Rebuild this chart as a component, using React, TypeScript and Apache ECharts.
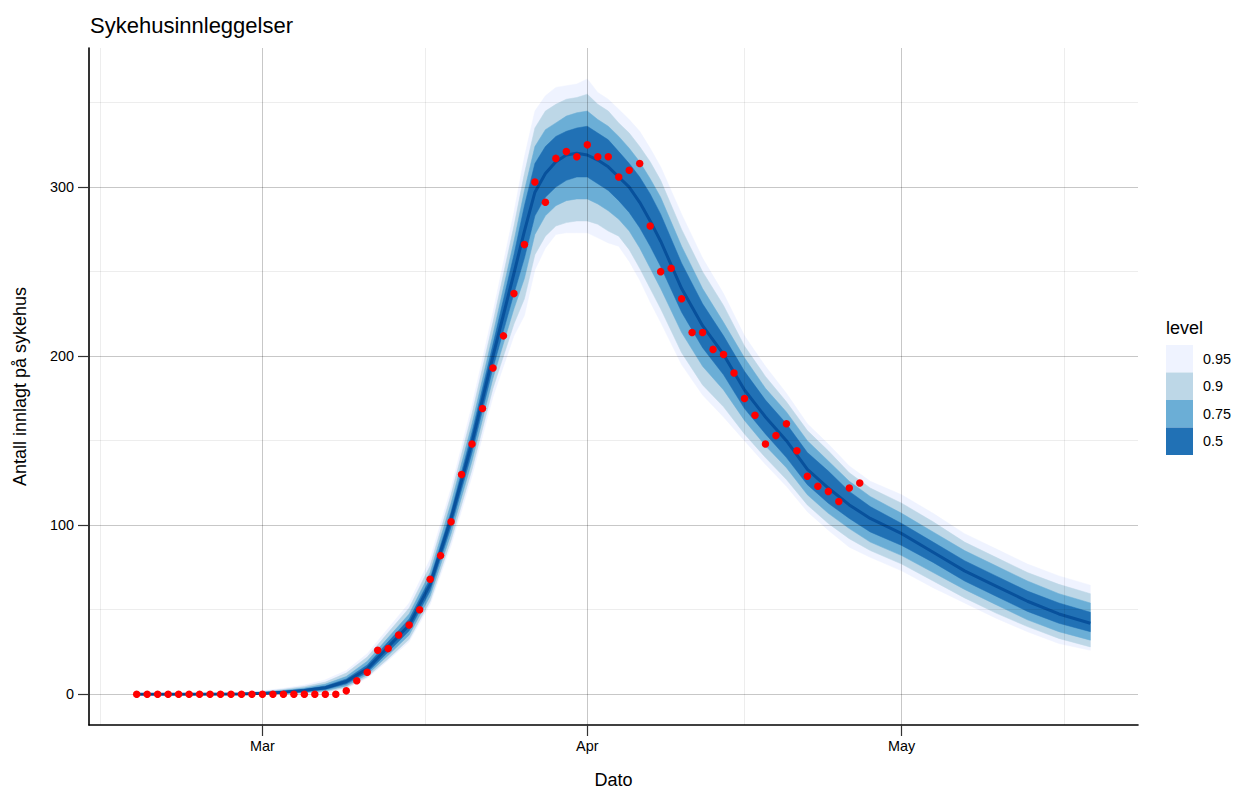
import React, { useEffect, useRef } from 'react';
import * as echarts from 'echarts';

const chartTitle = 'Sykehusinnleggelser';
const xTitle = 'Dato';
const yTitle = 'Antall innlagt på sykehus';
const legendTitle = 'level';
const levels = ['0.95', '0.9', '0.75', '0.5'];
const levelColors = ['#eff3ff', '#bdd7e7', '#6baed6', '#2171b5'];

// observed admissions, one per day from pointsStart
const pointsStart = '2020-02-18';
const admissions = [
  0, 0, 0, 0, 0, 0, 0, 0, 0, 0, 0, 0, 0, 0, 0, 0, 0, 0, 0, 0,
  2, 8, 13, 26, 27, 35, 41, 50, 68, 82, 102, 130, 148, 169, 193, 212, 237, 266, 303, 291,
  317, 321, 318, 325, 318, 318, 306, 310, 314, 277, 250, 252, 234, 214, 214, 204, 201, 190, 175, 165,
  148, 153, 160, 144, 129, 123, 120, 114, 122, 125,
];

// model prediction (median and quantile bands)
const bandDates = [
  '2020-02-18', '2020-02-23', '2020-02-28', '2020-03-01', '2020-03-03', '2020-03-05', '2020-03-07', '2020-03-09',
  '2020-03-11', '2020-03-13', '2020-03-15', '2020-03-17', '2020-03-19', '2020-03-21', '2020-03-23', '2020-03-25',
  '2020-03-26', '2020-03-27', '2020-03-28', '2020-03-29', '2020-03-30', '2020-03-31', '2020-04-01', '2020-04-02',
  '2020-04-03', '2020-04-04', '2020-04-05', '2020-04-06', '2020-04-07', '2020-04-08', '2020-04-10', '2020-04-12',
  '2020-04-14', '2020-04-16', '2020-04-18', '2020-04-20', '2020-04-22', '2020-04-24', '2020-04-26', '2020-04-28',
  '2020-05-01', '2020-05-04', '2020-05-07', '2020-05-10', '2020-05-13', '2020-05-16', '2020-05-19',
];
const median = [
  0, 0, 0.2, 0.5, 1.2, 2.2, 3.8, 7.5, 15, 28, 41, 65, 104, 149, 200, 249, 274, 297, 308, 315,
  319, 320, 319, 316, 312, 306, 300, 291, 280, 268, 240, 218, 201, 180, 164, 150, 133, 122, 112, 104,
  95, 84, 73, 64, 55, 47.5, 42,
];
const hi95 = [
  0.6, 0.6, 1.0, 2.0, 3.5, 5.5, 8.5, 14, 24, 39, 54, 80, 122, 171, 226, 285, 318, 345, 354, 359,
  360, 361, 364, 356, 352, 346, 340, 333, 323, 312, 284, 258, 237, 212, 194, 178, 160, 148, 135, 126,
  118, 107, 95, 86, 77, 70, 64.5,
];
const hi90 = [
  0.5, 0.5, 0.8, 1.6, 2.9, 4.6, 7.2, 12.5, 22, 36.5, 51, 76, 118, 166, 220, 277, 308, 335, 345, 349,
  352, 353, 355, 349, 345, 338, 332, 324, 315, 304, 275, 250, 230, 206, 188, 173, 156, 144, 131, 122,
  113, 102, 90, 81, 72, 65, 59.5,
];
const hi75 = [
  0.4, 0.4, 0.6, 1.2, 2.3, 3.7, 6.0, 10.5, 19.5, 33.5, 47.5, 72, 113, 160, 213, 268, 298, 324, 334, 338,
  342, 344, 345, 340, 336, 330, 323, 315, 305, 294, 265, 240, 220, 199, 181, 167, 150, 138, 126, 117,
  107, 96, 85, 76, 67, 59.5, 54,
];
const hi50 = [
  0.2, 0.2, 0.4, 0.8, 1.8, 3.0, 4.9, 9, 17.3, 31, 44.5, 68.5, 108, 155, 207, 260, 289, 314, 324, 330,
  333, 335, 336, 332, 328, 321, 314, 306, 296, 284, 255, 231, 212, 191, 174, 160, 143, 132, 120, 111,
  101, 90, 79, 70, 61, 54, 48.5,
];
const lo50 = [
  0, 0, 0.1, 0.3, 0.8, 1.5, 2.8, 6, 12.8, 25, 37.5, 61, 99, 143, 193, 237, 258, 283, 294, 300,
  304, 306, 306, 302, 298, 292, 285, 276, 265, 253, 226, 205, 189, 169, 154, 140, 124, 113, 104, 96,
  88, 78, 67, 58, 49, 42, 37,
];
const lo75 = [
  0, 0, 0, 0.2, 0.5, 1.0, 2.1, 4.9, 11.5, 23, 35, 58, 95, 138, 187, 228, 246, 272, 283, 289,
  292, 293, 293, 290, 286, 281, 274, 264, 252, 240, 214, 194, 180, 162, 147, 134, 118, 107, 98, 90,
  82, 72, 62, 53, 44, 37, 32,
];
const lo90 = [
  0, 0, 0, 0.1, 0.3, 0.7, 1.5, 4, 10.3, 21, 32.5, 55, 91, 133, 181, 219, 234, 260, 271, 277,
  279, 280, 280, 278, 274, 271, 263, 252, 240, 228, 202, 183, 170, 154, 140, 127, 112, 101, 92, 85,
  77, 67, 57, 48, 40, 33, 28,
];
const lo95 = [
  0, 0, 0, 0, 0.2, 0.5, 1.2, 3.4, 9.5, 20, 31, 53, 88, 129, 176, 212, 224, 251, 264, 272,
  273, 273, 273, 270, 267, 265, 256, 245, 232, 220, 195, 177, 164, 150, 136, 123, 108, 97, 87, 81,
  73, 63, 54, 45, 37, 30, 26,
];

const monthTicks = ['2020-03-01', '2020-04-01', '2020-05-01'];
const monthLabels = ['Mar', 'Apr', 'May'];
const minorDateTicks = ['2020-02-14T12', '2020-03-16T12', '2020-04-16T00', '2020-05-16T12'];
const yTicks = [0, 100, 200, 300];
const yMinorTicks = [50, 150, 250, 350];

const DAY = 86400000;
const FONT = "'Liberation Sans', Arial, Helvetica, sans-serif";

// date string -> UTC milliseconds (x axis is a plain value axis in ms)
const ts = (s: string) => {
  const [d, h] = s.split('T');
  const [y, m, dd] = d.split('-').map(Number);
  return Date.UTC(y, m - 1, dd, h ? Number(h) : 0);
};

const App: React.FC = () => {
  const chartRef = useRef<HTMLDivElement>(null);

  useEffect(() => {
    document.body.style.margin = '0';
    if (!chartRef.current) return;
    const chart = echarts.init(chartRef.current, undefined, { renderer: 'svg' });

    const bandX = bandDates.map(ts);
    const xMin = bandX[0] - 4.55 * DAY;
    const xMax = bandX[bandX.length - 1] + 4.55 * DAY;
    const yMin = -18.2;
    const yMax = 382.3;

    const majorLine = { color: 'rgba(0,0,0,0.22)', width: 1 };
    const minorLine = { color: 'rgba(0,0,0,0.07)', width: 1 };

    // outer band first, inner band last
    const bands = [
      [lo95, hi95],
      [lo90, hi90],
      [lo75, hi75],
      [lo50, hi50],
    ];

    const series: any[] = [
      {
        type: 'custom',
        silent: true,
        clip: true,
        z: 2,
        data: bands.map((_, k) => [bandX[0], k]),
        renderItem: (params: any, api: any) => {
          const k = params.dataIndex;
          const [lo, hi] = bands[k];
          const upper = bandX.map((x, i) => api.coord([x, hi[i]]));
          const lower = bandX.map((x, i) => api.coord([x, lo[i]])).reverse();
          return {
            type: 'polygon',
            shape: { points: upper.concat(lower) },
            style: { fill: levelColors[k], stroke: levelColors[k], lineWidth: 0.5 },
          };
        },
      },
      {
        type: 'line',
        silent: true,
        symbol: 'none',
        z: 6,
        lineStyle: { color: '#08519c', width: 3 },
        data: bandX.map((x, i) => [x, median[i]]),
      },
    ];
    const p0 = ts(pointsStart);
    series.push({
      type: 'scatter',
      silent: true,
      symbolSize: 7.5,
      z: 20,
      itemStyle: { color: '#ff0000', opacity: 1 },
      data: admissions.map((v, i) => [p0 + i * DAY, v]),
    });

    const monthValues = monthTicks.map(ts);
    const minorXValues = minorDateTicks.map(ts);

    const option: any = {
      animation: false,
      backgroundColor: '#ffffff',
      grid: { left: 89, right: 96, top: 48, bottom: 64, containLabel: false },
      xAxis: [
        {
          type: 'value',
          min: xMin,
          max: xMax,
          z: 10,
          axisLine: { show: true, onZero: false, lineStyle: { color: '#000', width: 1.6 } },
          axisTick: { show: true, length: 11, customValues: monthValues, lineStyle: { color: '#333', width: 1.2 } },
          axisLabel: {
            customValues: monthValues,
            margin: 14,
            color: '#000',
            fontSize: 14.4,
            fontFamily: FONT,
            formatter: (v: number) => {
              const idx = monthValues.findIndex((m) => Math.abs(m - v) < DAY);
              return idx >= 0 ? monthLabels[idx] : '';
            },
          },
          splitLine: { show: true, lineStyle: majorLine },
          minorTick: { show: false },
          minorSplitLine: { show: false },
        },
        {
          type: 'value',
          min: xMin,
          max: xMax,
          position: 'bottom',
          z: 9,
          axisLine: { show: false },
          axisTick: { show: false, customValues: minorXValues },
          axisLabel: { show: false, customValues: minorXValues },
          splitLine: { show: true, customValues: minorXValues, lineStyle: minorLine },
        },
      ],
      yAxis: [
        {
          type: 'value',
          min: yMin,
          max: yMax,
          z: 10,
          axisLine: { show: true, onZero: false, lineStyle: { color: '#000', width: 1.6 } },
          axisTick: { show: true, length: 11, customValues: yTicks, lineStyle: { color: '#333', width: 1.2 } },
          axisLabel: { customValues: yTicks, margin: 15, color: '#000', fontSize: 14.4, fontFamily: FONT },
          splitLine: { show: true, lineStyle: majorLine },
        },
        {
          type: 'value',
          min: yMin,
          max: yMax,
          position: 'left',
          z: 9,
          axisLine: { show: false },
          axisTick: { show: false, customValues: yMinorTicks },
          axisLabel: { show: false, customValues: yMinorTicks },
          splitLine: { show: true, customValues: yMinorTicks, lineStyle: minorLine },
        },
      ],
      graphic: [
        {
          type: 'text',
          x: 90,
          y: 25,
          style: { text: chartTitle, fill: '#000', fontSize: 22, fontFamily: FONT, align: 'left', verticalAlign: 'middle' },
        },
        {
          type: 'text',
          x: 613.5,
          y: 780,
          style: { text: xTitle, fill: '#000', fontSize: 18, fontFamily: FONT, align: 'center', verticalAlign: 'middle' },
        },
        {
          type: 'text',
          x: 20,
          y: 386.5,
          rotation: Math.PI / 2,
          style: { text: yTitle, fill: '#000', fontSize: 18, fontFamily: FONT, align: 'center', verticalAlign: 'middle' },
        },
        {
          type: 'text',
          x: 1166,
          y: 328,
          style: { text: legendTitle, fill: '#000', fontSize: 18, fontFamily: FONT, align: 'left', verticalAlign: 'middle' },
        },
        ...levels.flatMap((lv, k) => [
          {
            type: 'rect',
            shape: { x: 1166, y: 345 + k * 27.5, width: 27, height: 27.5 },
            style: { fill: levelColors[k] },
          },
          {
            type: 'text',
            x: 1203,
            y: 345 + k * 27.5 + 13.75,
            style: { text: lv, fill: '#000', fontSize: 14.4, fontFamily: FONT, align: 'left', verticalAlign: 'middle' },
          },
        ]),
      ],
      series,
    };

    chart.setOption(option);
    return () => {
      chart.dispose();
    };
  }, []);

  return <div ref={chartRef} style={{ width: 1234, height: 789 }} />;
};

export default App;
